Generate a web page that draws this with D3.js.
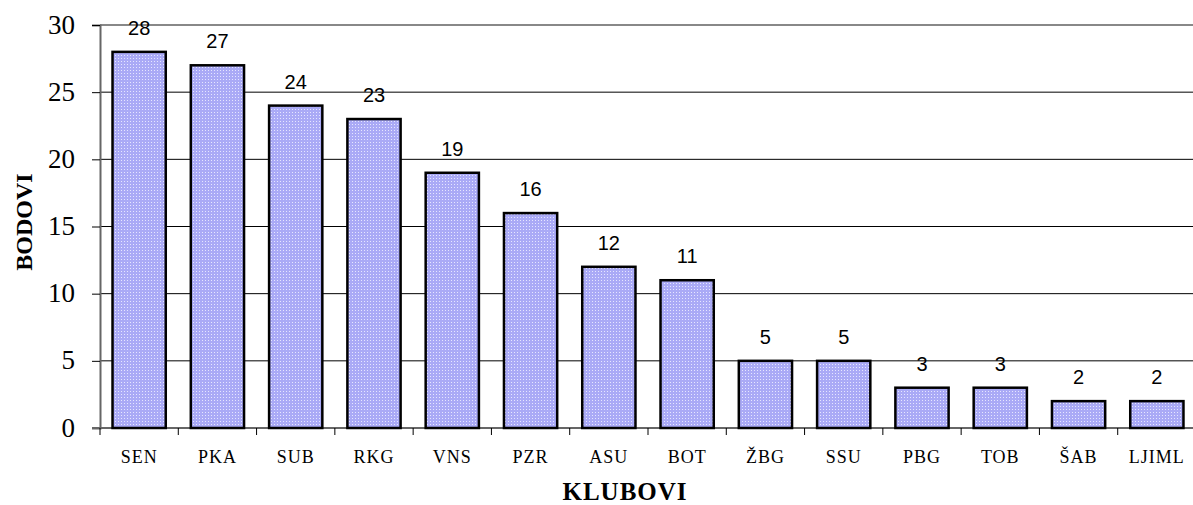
<!DOCTYPE html>
<html>
<head>
<meta charset="utf-8">
<script src="https://cdn.jsdelivr.net/npm/d3@7"></script>
<style>
  body { margin: 0; background: #fff; }
  svg { display: block; }
</style>
</head>
<body>
<svg id="chart" width="1193" height="505"></svg>
<script>
const clubs = ["SEN", "PKA", "SUB", "RKG", "VNS", "PZR", "ASU", "BOT", "ŽBG", "SSU", "PBG", "TOB", "ŠAB", "LJIML"];
const points = [28, 27, 24, 23, 19, 16, 12, 11, 5, 5, 3, 3, 2, 2];
const yTicks = [0, 5, 10, 15, 20, 25, 30];

const margin = { top: 25, right: -3, bottom: 77, left: 100 },
    width = 1193 - margin.left - margin.right,
    height = 505 - margin.top - margin.bottom;

const svg = d3.select("#chart");

// dotted fill like the old excel bars
const defs = svg.append("defs");
const pat = defs.append("pattern").attr("id", "dots").attr("patternUnits", "userSpaceOnUse")
    .attr("width", 3).attr("height", 3);
pat.append("rect").attr("width", 3).attr("height", 3).attr("fill", "#aaaaf6");
pat.append("rect").attr("width", 1).attr("height", 1).attr("fill", "#e6e6ff");

const g = svg.append("g").attr("transform", `translate(${margin.left},${margin.top})`);

const x = d3.scaleBand().domain(clubs).range([0, width]).paddingInner(0.32).paddingOuter(0.16);
const y = d3.scaleLinear().domain([0, 30]).range([height, 0]);

// gridlines
g.append("g").selectAll("line").data(yTicks.filter(d => d > 0)).join("line")
    .attr("x1", 0).attr("x2", width)
    .attr("y1", d => y(d)).attr("y2", d => y(d))
    .attr("stroke", d => d === 30 ? "#888" : "#000")
    .attr("stroke-width", d => d === 30 ? 2 : 1);

// y axis
const yAxis = g.append("g").call(d3.axisLeft(y).tickValues(yTicks).tickSize(8).tickPadding(17));
yAxis.select(".domain").attr("stroke", "#666").attr("stroke-width", 2);
yAxis.selectAll(".tick line").attr("stroke", "#000");
yAxis.selectAll("text").attr("font-family", "Liberation Serif, Times New Roman, serif")
    .attr("font-size", 27).attr("dy", "0.3em").attr("fill", "#000");

// x axis
const xTickPos = d3.range(clubs.length + 1).map(i => i * x.step());
const xAxis = g.append("g").attr("transform", `translate(0,${height})`);
xAxis.append("line").attr("x1", -8).attr("x2", width).attr("stroke", "#666").attr("stroke-width", 2);
xAxis.selectAll(".tk").data(xTickPos).join("line").attr("class", "tk")
    .attr("x1", d => d).attr("x2", d => d).attr("y1", 0).attr("y2", 7).attr("stroke", "#000");
xAxis.selectAll(".lbl").data(clubs).join("text").attr("class", "lbl")
    .attr("x", d => x(d) + x.bandwidth() / 2).attr("y", 35)
    .attr("text-anchor", "middle")
    .attr("font-family", "Liberation Serif, Times New Roman, serif")
    .attr("font-size", 18).attr("letter-spacing", 1)
    .text(d => d);

// bars
g.selectAll(".bar").data(clubs).join("rect").attr("class", "bar")
    .attr("x", d => x(d)).attr("y", (d, i) => y(points[i]))
    .attr("width", x.bandwidth()).attr("height", (d, i) => height - y(points[i]))
    .attr("fill", "url(#dots)").attr("stroke", "#000").attr("stroke-width", 2.5);

// value labels
g.selectAll(".val").data(clubs).join("text").attr("class", "val")
    .attr("x", d => x(d) + x.bandwidth() / 2).attr("y", (d, i) => y(points[i]) - 17)
    .attr("text-anchor", "middle")
    .attr("font-family", "Liberation Sans, Arial, sans-serif").attr("font-size", 20)
    .text((d, i) => points[i]);

// axis titles
svg.append("text").attr("x", 625).attr("y", 500).attr("text-anchor", "middle")
    .attr("font-family", "Liberation Serif, Times New Roman, serif").attr("font-weight", "bold")
    .attr("font-size", 25).attr("letter-spacing", 1).text("KLUBOVI");
svg.append("text").attr("transform", "translate(32,222) rotate(-90)").attr("text-anchor", "middle")
    .attr("font-family", "Liberation Serif, Times New Roman, serif").attr("font-weight", "bold")
    .attr("font-size", 24).text("BODOVI");
</script>
</body>
</html>
